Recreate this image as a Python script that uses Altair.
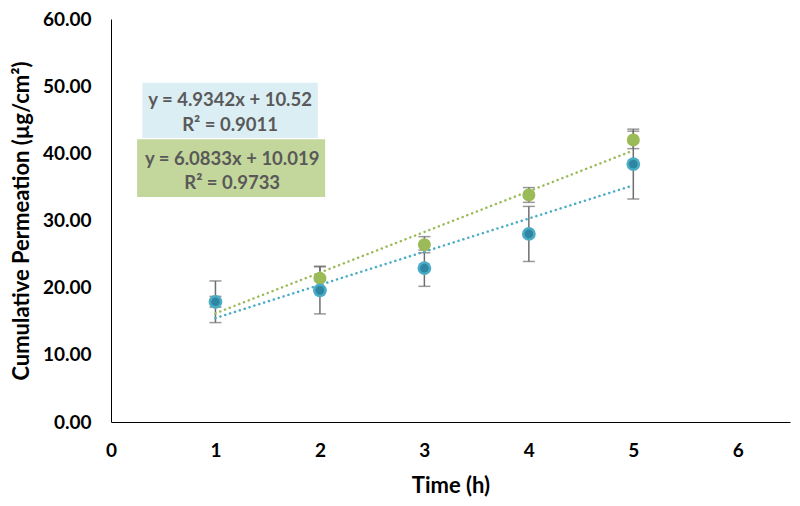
import altair as alt
import pandas as pd

# ---- data ----
times = [1, 2, 3, 4, 5]
blue_mean = [17.9, 19.6, 22.9, 28.0, 38.4]
blue_sd = [3.1, 3.5, 2.7, 4.1, 5.2]
green_mean = [17.9, 21.4, 26.4, 33.8, 42.0]
green_sd = [0.8, 1.8, 1.2, 1.1, 1.3]

series_names = ["Blue", "Green"]
series_colors = ["#4BACC6", "#9BBB59"]

# equation annotation boxes (data coordinates)
box_series = ["Blue", "Green"]
box_x0 = [0.30, 0.25]
box_x1 = [1.98, 2.05]
box_y0 = [42.3, 33.5]
box_y1 = [50.5, 42.1]
box_fill = ["#DBEEF4", "#C3D69B"]

label_text = ["y = 4.9342x + 10.52", "R\u00b2 = 0.9011",
              "y = 6.0833x + 10.019", "R\u00b2 = 0.9733"]
label_x = [1.14, 1.14, 1.16, 1.16]
label_y = [47.9, 44.2, 39.1, 35.6]

FONT = "Lato"

rows = []
for name, means, sds in [("Blue", blue_mean, blue_sd), ("Green", green_mean, green_sd)]:
    for t, m, s in zip(times, means, sds):
        rows.append({"series": name, "x": t, "y": m, "lo": m - s, "hi": m + s})
df = pd.DataFrame(rows)

boxes = pd.DataFrame({"series": box_series, "x0": box_x0, "x1": box_x1,
                      "y0": box_y0, "y1": box_y1, "fill": box_fill})
labels = pd.DataFrame({"text": label_text, "x": label_x, "y": label_y})

x_scale = alt.Scale(domain=[0, 6.5], nice=False, zero=False)
y_scale = alt.Scale(domain=[0, 60], nice=False)

x_axis = alt.Axis(values=[0, 1, 2, 3, 4, 5, 6], format="d", grid=False, ticks=False,
                  domainColor="black", domainWidth=1,
                  labelFont=FONT, labelFontSize=19, labelFontWeight="bold",
                  labelColor="black", labelPadding=19, labelFlush=False,
                  titleFont=FONT, titleFontSize=22, titleFontWeight="bold",
                  titleColor="black", titlePadding=15)
y_axis = alt.Axis(values=[0, 10, 20, 30, 40, 50, 60], format=".2f", grid=False, ticks=False,
                  domainColor="black", domainWidth=1,
                  labelFont=FONT, labelFontSize=19, labelFontWeight="bold",
                  labelColor="black", labelPadding=20, labelFlush=False,
                  titleFont=FONT, titleFontSize=22, titleFontWeight="bold",
                  titleColor="black", titlePadding=9)

X_TITLE = "Time (h)"
Y_TITLE = "Cumulative Permeation (\u00b5g/cm\u00b2)"


def X(field):
    return alt.X(f"{field}:Q", scale=x_scale, axis=x_axis, title=X_TITLE)


def Y(field):
    return alt.Y(f"{field}:Q", scale=y_scale, axis=y_axis, title=Y_TITLE)


color_scale = alt.Scale(domain=series_names, range=series_colors)

box_layer = alt.Chart(boxes).mark_rect().encode(
    x=X("x0"), x2="x1", y=Y("y0"), y2="y1",
    fill=alt.Fill("fill:N", scale=None),
)

text_layer = alt.Chart(labels).mark_text(
    font=FONT, fontSize=18.5, fontWeight="bold", color="#595959"
).encode(x=X("x"), y=Y("y"), text="text:N")

err_rule = alt.Chart(df).mark_rule(color="#6E6E6E", strokeWidth=1.5).encode(
    x=X("x"), y=Y("lo"), y2="hi")
cap_lo = alt.Chart(df).mark_tick(color="#6E6E6E", thickness=1.5, size=12,
                                 orient="horizontal").encode(x=X("x"), y=Y("lo"))
cap_hi = alt.Chart(df).mark_tick(color="#6E6E6E", thickness=1.5, size=12,
                                 orient="horizontal").encode(x=X("x"), y=Y("hi"))

trend = alt.Chart(df).transform_regression(
    "x", "y", groupby=["series"], extent=[1, 5]
).mark_line(strokeWidth=2.5, strokeDash=[0.1, 5], strokeCap="round").encode(
    x=X("x"), y=Y("y"),
    color=alt.Color("series:N", scale=color_scale, legend=None),
)

green_pts = alt.Chart(df).transform_filter(alt.datum.series == "Green").mark_circle(
    size=170, opacity=1, color="#9BBB59").encode(x=X("x"), y=Y("y"))
blue_outer = alt.Chart(df).transform_filter(alt.datum.series == "Blue").mark_circle(
    size=190, opacity=1, color="#4BACC6").encode(x=X("x"), y=Y("y"))
blue_inner = alt.Chart(df).transform_filter(alt.datum.series == "Blue").mark_circle(
    size=75, opacity=1, color="#2F86A2").encode(x=X("x"), y=Y("y"))

chart = alt.layer(
    box_layer, text_layer, err_rule, cap_lo, cap_hi, trend,
    green_pts, blue_outer, blue_inner
).properties(
    width=679, height=403,
    autosize=alt.AutoSizeParams(type="none"),
    padding={"left": 103, "top": 11, "right": 2, "bottom": 76},
    background="white",
).configure_view(stroke=None)

chart.save("out.html", embed_options={"renderer": "svg", "actions": False})
